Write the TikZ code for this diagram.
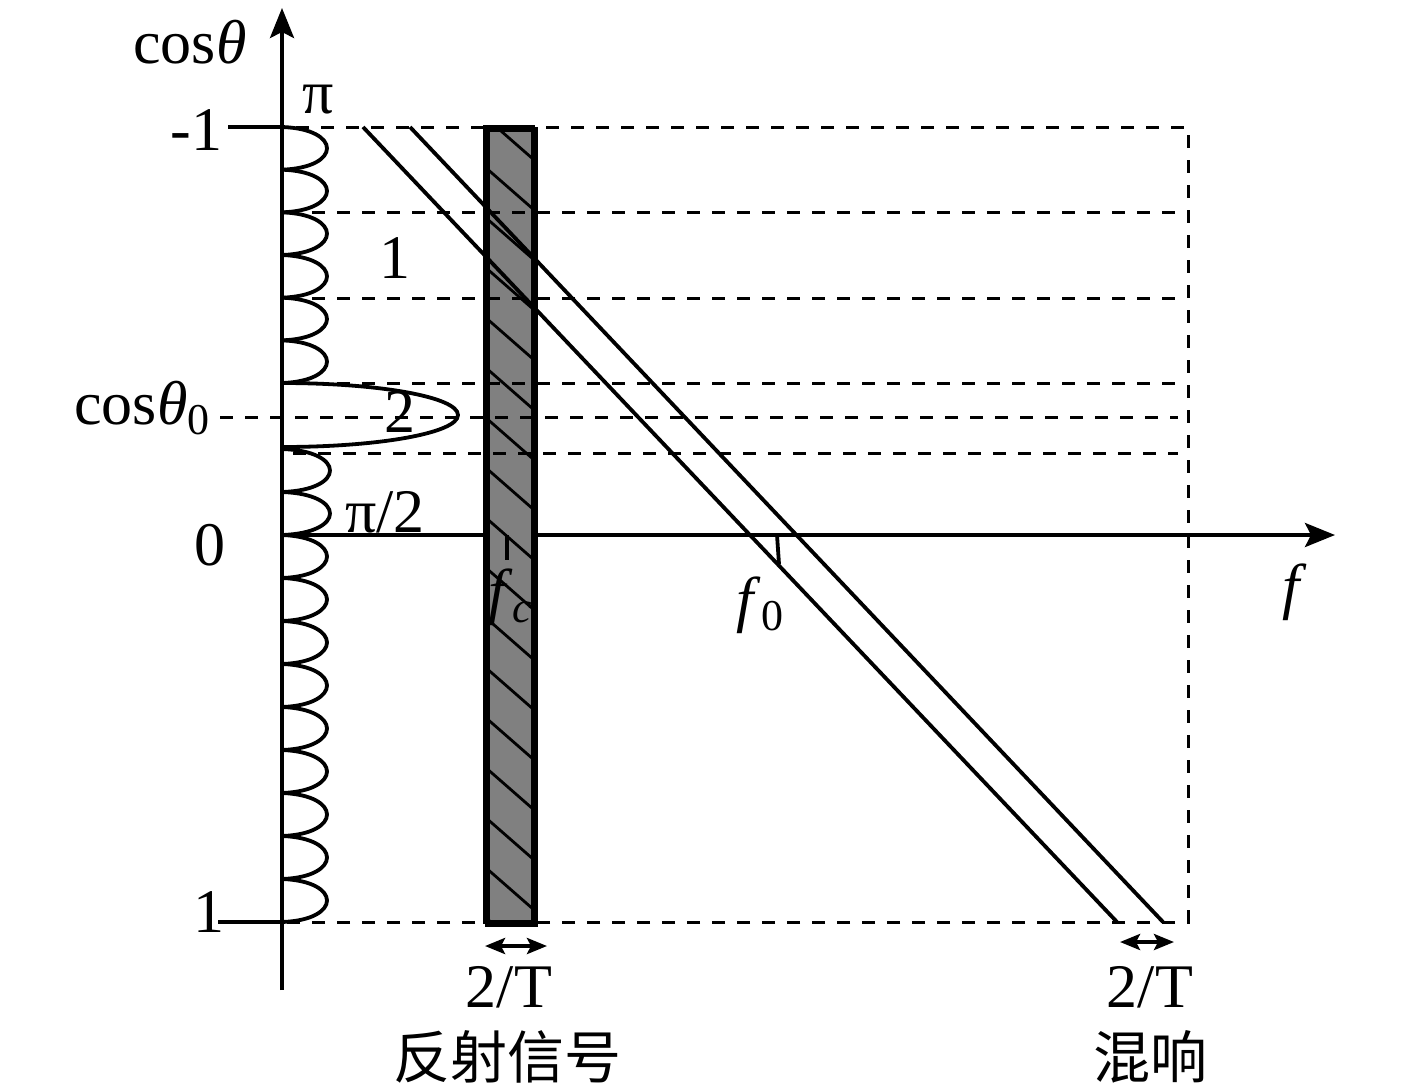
\documentclass[tikz,border=0pt]{standalone}
\usepackage{fontspec}
\setmainfont{Liberation Serif}
\newfontfamily\cjk{Noto Sans CJK SC}
\usetikzlibrary{arrows.meta}
\begin{document}
\begin{tikzpicture}[x=0.5pt,y=-0.5pt,line width=1.9pt,
  dsh/.style={line width=1.5pt,dash pattern=on 6.5pt off 6pt},
  lbl/.style={font=\fontsize{31}{31}\selectfont,inner sep=0pt},
  cjklbl/.style={font=\cjk\fontsize{28.5}{28.5}\selectfont,inner sep=0pt},
  axisarrow/.style={-{Stealth[length=15pt,width=12pt,inset=3pt]}},
  dblarrow/.style={{Stealth[length=10pt,width=8pt,inset=2pt]}-{Stealth[length=10pt,width=8pt,inset=2pt]}},
  lobe/.style={line width=1.9pt},
  band/.style={fill=black!50,draw=black,line width=2.4pt}]
\useasboundingbox (0,0) rectangle (1417,1087);

% coordinates
\coordinate (O) at (282,535);
\coordinate (ybot) at (282,990);
\coordinate (ytop) at (282,8);
\coordinate (xend) at (1335,535);

% horizontal axis and vertical axis
\draw[axisarrow] (O) -- (xend);
\draw[axisarrow] (ybot) -- (ytop);

% ticks at -1 and 1
\coordinate (tm1a) at (228,127); \coordinate (tm1b) at (282,127);
\coordinate (tp1a) at (218,922); \coordinate (tp1b) at (282,922);
\draw (tm1a) -- (tm1b);
\draw (tp1a) -- (tp1b);

% small lobes upper group
\foreach \i in {0,...,5}{
  \pgfmathsetmacro{\ya}{127+\i*42.67}
  \pgfmathsetmacro{\yb}{127+(\i+1)*42.67}
  \draw[lobe] (282,\ya) .. controls (342,\ya+2) and (342,\yb-2) .. (282,\yb);
}
% main lobe
\draw[lobe] (282,383) .. controls (379,383) and (458,397) .. (458,415)
  .. controls (458,433) and (379,447) .. (282,447);
% lobes between main lobe and 0
\foreach \i in {0,1}{
  \pgfmathsetmacro{\ya}{449+\i*43}
  \pgfmathsetmacro{\yb}{449+(\i+1)*43}
  \draw[lobe] (282,\ya) .. controls (346,\ya+2) and (346,\yb-2) .. (282,\yb);
}
% lower lobes
\foreach \i in {0,...,8}{
  \pgfmathsetmacro{\ya}{535+\i*43}
  \pgfmathsetmacro{\yb}{535+(\i+1)*43}
  \draw[lobe] (282,\ya) .. controls (342,\ya+2) and (342,\yb-2) .. (282,\yb);
}

% shaded band with hatching
\node[band,minimum width=24pt,minimum height=397.5pt,inner sep=0pt,anchor=north west] (bandbox) at (485,127) {};
\begin{scope}
  \clip (485,127) rectangle (533,922);
  \foreach \k in {0,...,17}{
    \draw[line width=1.4pt] (485,117+\k*50) -- (533,159+\k*50);
  }
\end{scope}
\draw[line width=2.4pt] (485,127) rectangle (533,922);

% fc tick
\coordinate (fca) at (507,535); \coordinate (fcb) at (507,560);
\draw[line width=2.4pt] (fca) -- (fcb);

% dashed guides
\coordinate (c1) at (1188,127); \coordinate (c2) at (1188,922);
\draw[dsh] (296,127) -- (c1) -- (c2) -- (282,922);
\draw[dsh] (312,212) -- (1178,212);
\draw[dsh] (312,298) -- (1178,298);
\draw[dsh] (287,383) -- (1178,383);
\draw[dsh] (220,417) -- (1178,417);
\draw[dsh] (293,453) -- (1178,453);

% diagonal lines
\coordinate (A1) at (363,127); \coordinate (A2) at (1117,922);
\coordinate (B1) at (410,127); \coordinate (B2) at (1163,922);
\draw (A1) -- (A2);
\draw (B1) -- (B2);

% f0 tick
\coordinate (f0a) at (777,535); \coordinate (f0b) at (779,564);
\draw (f0a) -- (f0b);

% bottom width arrows
\coordinate (w1a) at (485,946); \coordinate (w1b) at (547,946);
\coordinate (w2a) at (1120,942); \coordinate (w2b) at (1174,942);
\draw[dblarrow] (w1a) -- (w1b);
\draw[dblarrow] (w2a) -- (w2b);

% labels
\node[lbl] (lcos) at (190,42) {cos\textit{θ}};
\node[lbl,anchor=east] (lm1) at (224,130) {-1};
\node[lbl] (lp1) at (209,912) {1};
\node[lbl] (l0) at (210,545) {0};
\node[lbl] (lcos0) at (142,408) {cos\textit{θ}\raisebox{-0.35ex}{\fontsize{22}{22}\selectfont 0}};
\node[lbl] (lpi) at (318,100) {π};
\node[lbl] (lone) at (395,258) {1};
\node[lbl] (ltwo) at (400,412) {2};
\node[lbl] (lpi2) at (385,512) {π/2};
\node[lbl] (lfc) at (510,597) {\textit{f}\raisebox{-0.35ex}{\fontsize{22}{22}\selectfont\textit{c}}};
\node[lbl] (lf0) at (760,605) {\textit{f}\raisebox{-0.35ex}{\fontsize{22}{22}\selectfont 0}};
\node[lbl] (lf) at (1295,592) {\textit{f}};
\node[lbl] (l2T1) at (509,987) {2/T};
\node[lbl] (l2T2) at (1150,987) {2/T};
\node[cjklbl] (lrefl) at (507,1057) {反射信号};
\node[cjklbl] (lrev) at (1150,1057) {混响};
\end{tikzpicture}
\end{document}
